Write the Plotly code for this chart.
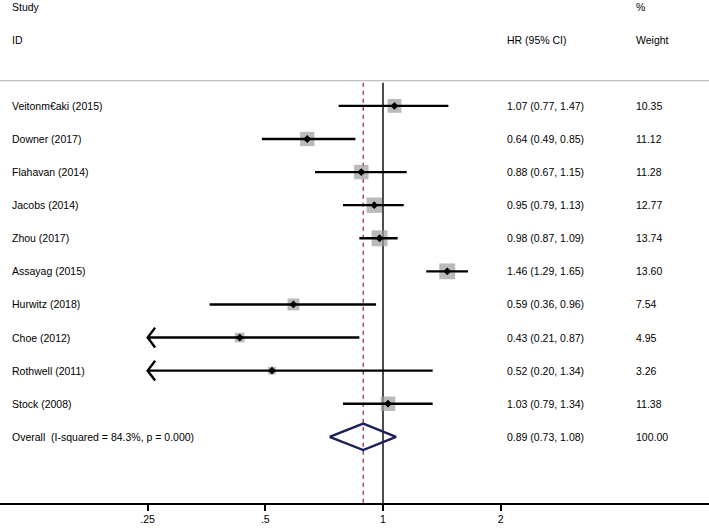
import math
import plotly.graph_objects as go

# ---------------- data ----------------
studies = ["Veitonm€aki (2015)", "Downer (2017)", "Flahavan (2014)", "Jacobs (2014)",
           "Zhou (2017)", "Assayag (2015)", "Hurwitz (2018)", "Choe (2012)",
           "Rothwell (2011)", "Stock (2008)"]
hr = [1.07, 0.64, 0.88, 0.95, 0.98, 1.46, 0.59, 0.43, 0.52, 1.03]
ci_low = [0.77, 0.49, 0.67, 0.79, 0.87, 1.29, 0.36, 0.21, 0.20, 0.79]
ci_high = [1.47, 0.85, 1.15, 1.13, 1.09, 1.65, 0.96, 0.87, 1.34, 1.34]
weights = [10.35, 11.12, 11.28, 12.77, 13.74, 13.60, 7.54, 4.95, 3.26, 11.38]

overall_label = "Overall  (I-squared = 84.3%, p = 0.000)"
overall_hr = 0.89
overall_low = 0.73
overall_high = 1.08
overall_weight = 100.00

tick_vals = [0.25, 0.5, 1, 2]
tick_text = [".25", ".5", "1", "2"]
axis_min = 0.25  # CI clipped here (arrow)

# ---------------- figure ----------------
FONT = "Liberation Sans, Arial, sans-serif"
fig = go.Figure()
n = len(studies)
y_rows = list(range(n))
y_overall = n

# reference lines
fig.add_trace(go.Scatter(x=[1, 1], y=[-0.7, 12], mode="lines",
                         line=dict(color="black", width=1.4), hoverinfo="skip", showlegend=False))
fig.add_trace(go.Scatter(x=[overall_hr, overall_hr], y=[-0.7, 12], mode="lines",
                         line=dict(color="#9a3b4f", width=1.4, dash="4px,4px"),
                         hoverinfo="skip", showlegend=False))

# weight boxes
fig.add_trace(go.Scatter(x=hr, y=y_rows, mode="markers",
                         marker=dict(symbol="square", color="#9c9c9c",
                                     size=[4.3 * math.sqrt(w) for w in weights],
                                     line=dict(width=0)),
                         hoverinfo="skip", showlegend=False))

# CI lines (with arrows if clipped)
for i in range(n):
    lo = max(ci_low[i], axis_min)
    fig.add_trace(go.Scatter(x=[lo, ci_high[i]], y=[i, i], mode="lines",
                             line=dict(color="black", width=2.4),
                             hoverinfo="skip", showlegend=False))
    if ci_low[i] < axis_min:
        fig.add_trace(go.Scatter(x=[axis_min * 1.045, axis_min, axis_min * 1.045],
                                 y=[i - 0.3, i, i + 0.3], mode="lines",
                                 line=dict(color="black", width=2.4),
                                 hoverinfo="skip", showlegend=False))

# point estimates
fig.add_trace(go.Scatter(x=hr, y=y_rows, mode="markers",
                         marker=dict(symbol="diamond", color="black", size=6),
                         hoverinfo="skip", showlegend=False))

# overall diamond
fig.add_trace(go.Scatter(x=[overall_low, overall_hr, overall_high, overall_hr, overall_low],
                         y=[y_overall, y_overall - 0.4, y_overall, y_overall + 0.4, y_overall],
                         mode="lines", line=dict(color="#1c1f5a", width=2.4),
                         hoverinfo="skip", showlegend=False))

# separator line under header
fig.add_shape(type="line", xref="paper", yref="y", x0=0, x1=1, y0=-0.76, y1=-0.76,
              line=dict(color="#b0b0b0", width=1))

# text columns
def txt(x, y, s):
    fig.add_annotation(x=x, y=y, xref="paper", yref="y", text=s, showarrow=False,
                       xanchor="left", yanchor="middle",
                       font=dict(family=FONT, size=10.5, color="#000"))

txt(0.014, -3, "Study")
txt(0.014, -2, "ID")
txt(0.712, -2, "HR (95% CI)")
txt(0.894, -3, "%")
txt(0.894, -2, "Weight")
for i in range(n):
    txt(0.014, i, studies[i])
    txt(0.712, i, f"{hr[i]:.2f} ({ci_low[i]:.2f}, {ci_high[i]:.2f})")
    txt(0.894, i, f"{weights[i]:.2f}")
txt(0.014, y_overall, overall_label)
txt(0.712, y_overall, f"{overall_hr:.2f} ({overall_low:.2f}, {overall_high:.2f})")
txt(0.894, y_overall, f"{overall_weight:.2f}")

fig.update_layout(
    width=709, height=529,
    margin=dict(l=0, r=0, t=0, b=26),
    paper_bgcolor="white", plot_bgcolor="white",
    xaxis=dict(type="log", range=[-0.9798, 0.8340],
               tickvals=tick_vals, ticktext=tick_text,
               ticks="outside", ticklen=6, tickwidth=1.5, tickcolor="black",
               showline=True, linecolor="black", linewidth=1.5,
               showgrid=False, zeroline=False, fixedrange=True,
               tickfont=dict(family=FONT, size=10.5, color="#000")),
    yaxis=dict(range=[12, -3.2], visible=False, showgrid=False, zeroline=False, fixedrange=True),
)

fig.write_html("out.html", config={"displayModeBar": False},
               post_script="document.body.style.margin='0';document.body.style.overflow='hidden';")
